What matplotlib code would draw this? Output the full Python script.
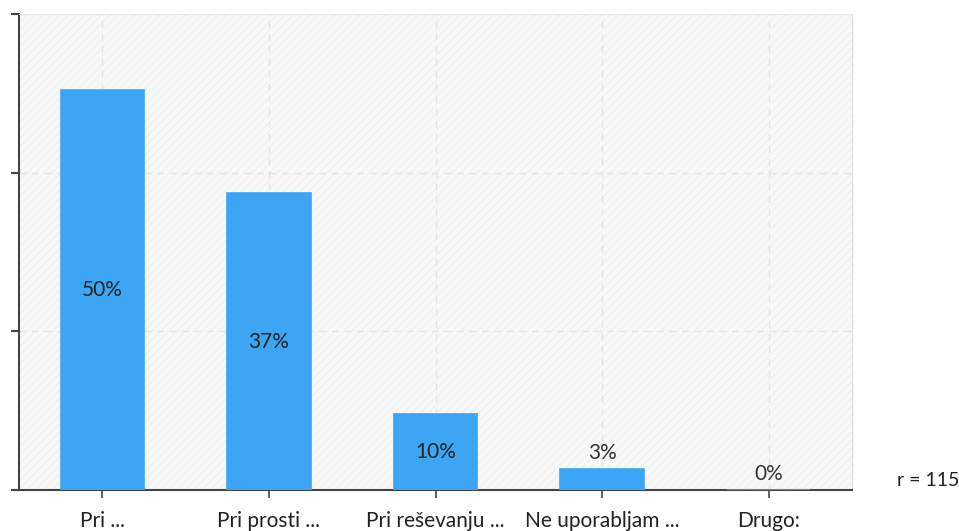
import matplotlib
matplotlib.use("Agg")
import matplotlib.pyplot as plt
from matplotlib.patches import Rectangle

# Data (n = 115)
categories = ["Pri ...", "Pri prosti ...", "Pri reševanju ...", "Ne uporabljam ...", "Drugo:"]
counts = [58, 43, 11, 3, 0]
total = 115
labels = ["50%", "37%", "10%", "3%", "0%"]

bar_color = "#3ca6f5"
plt.rcParams["font.family"] = ["Lato", "DejaVu Sans"]
plt.rcParams["hatch.linewidth"] = 0.8

values = [c / total * 100 for c in counts]

fig = plt.figure(figsize=(9.59, 5.31), dpi=100)
ax = fig.add_axes([19 / 959, 1 - 490 / 531, (852 - 19) / 959, (490 - 14) / 531])

# hatched light background
ax.set_facecolor("#f8f8f8")
bg = Rectangle((0, 0), 1, 1, transform=ax.transAxes, facecolor="none",
               edgecolor="#efefef", hatch="////", linewidth=0, zorder=0)
ax.add_patch(bg)

x = list(range(len(categories)))
ax.bar(x, values, width=0.5, color=bar_color, edgecolor=bar_color, linewidth=1.2, zorder=3)

for xi, v, lab in zip(x, values, labels):
    if v > 8:
        ax.text(xi, v / 2, lab, ha="center", va="center", fontsize=15, color="#222222", zorder=4)
    else:
        ax.text(xi, v + 0.8, lab, ha="center", va="bottom", fontsize=15, color="#333333", zorder=4)

ax.set_xlim(-0.5, 4.5)
ax.set_ylim(0, 60)
ax.set_yticks([0, 20, 40, 60])
ax.set_yticklabels([])
ax.set_xticks(x)
ax.set_xticklabels(categories, fontsize=15, color="#222222")

ax.grid(True, color="#e3e3e3", linestyle=(0, (5, 4)), linewidth=1, zorder=1)
ax.set_axisbelow(True)

ax.spines["left"].set_color("#444444")
ax.spines["left"].set_linewidth(1.5)
ax.spines["bottom"].set_color("#444444")
ax.spines["bottom"].set_linewidth(1.5)
ax.spines["top"].set_color("#e6e6e6")
ax.spines["right"].set_color("#dddddd")
ax.tick_params(axis="y", length=6, width=1.5, color="#444444")
ax.tick_params(axis="x", length=6, width=1.2, color="#444444", pad=9)

fig.text(928 / 959, 1 - 481 / 531, "r = 115", ha="center", va="center", fontsize=14, color="#222222")

fig.savefig("out.png", dpi=100)
